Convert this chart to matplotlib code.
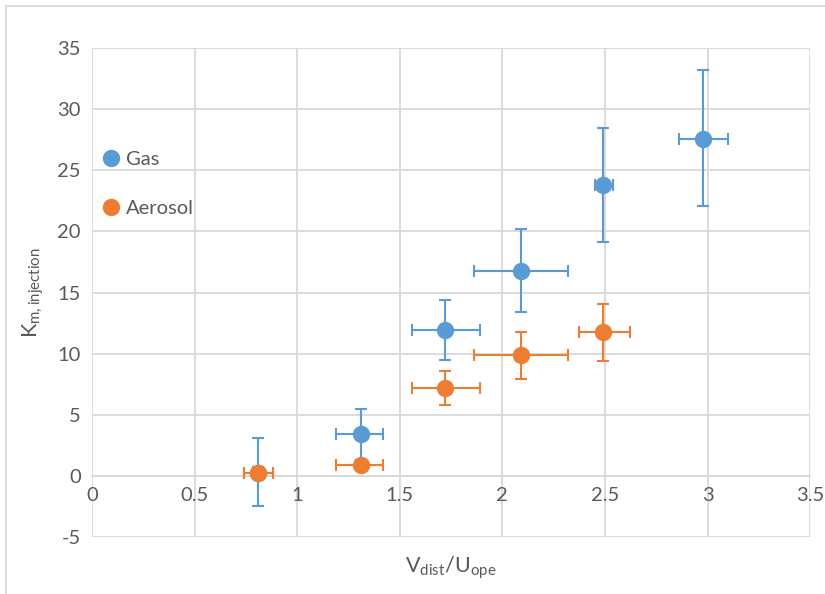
import matplotlib.pyplot as plt
from matplotlib.lines import Line2D
from matplotlib.patches import Rectangle

plt.rcParams['font.family'] = ['Lato', 'DejaVu Sans']
plt.rcParams['axes.unicode_minus'] = False

# Gas series
gas_x = [0.81, 1.31, 1.72, 2.09, 2.49, 2.98]
gas_y = [0.25, 3.45, 11.95, 16.8, 23.8, 27.6]
gas_xlo = [0.74, 1.19, 1.56, 1.86, 2.45, 2.86]
gas_xhi = [0.88, 1.42, 1.89, 2.32, 2.54, 3.10]
gas_ylo = [-2.5, 1.3, 9.5, 13.4, 19.1, 22.1]
gas_yhi = [3.1, 5.5, 14.4, 20.2, 28.5, 33.2]

# Aerosol series
aer_x = [0.81, 1.31, 1.72, 2.09, 2.49]
aer_y = [0.25, 0.9, 7.15, 9.86, 11.75]
aer_xlo = [0.74, 1.19, 1.56, 1.86, 2.375]
aer_xhi = [0.88, 1.42, 1.89, 2.32, 2.62]
aer_ylo = [-0.2, 0.6, 5.8, 7.9, 9.4]
aer_yhi = [0.7, 1.2, 8.6, 11.8, 14.05]

blue = '#5B9BD5'
orange = '#ED7D31'
txt = '#595959'


def errs(v, lo, hi):
    return [[a - b for a, b in zip(v, lo)], [b - a for a, b in zip(v, hi)]]


fig = plt.figure(figsize=(8.25, 5.94), dpi=100)
ax = fig.add_axes([0.1115, 0.096, 0.8705, 0.823])

for xs, ys, xl, xh, yl, yh, c in [
        (gas_x, gas_y, gas_xlo, gas_xhi, gas_ylo, gas_yhi, blue),
        (aer_x, aer_y, aer_xlo, aer_xhi, aer_ylo, aer_yhi, orange)]:
    ax.errorbar(xs, ys, xerr=errs(xs, xl, xh), yerr=errs(ys, yl, yh),
                fmt='o', color=c, ms=11.5, elinewidth=1.5, capsize=4.5,
                capthick=1.5, zorder=3)

ax.set_xlim(0, 3.5)
ax.set_ylim(-5, 35)
ax.set_xticks([0, 0.5, 1, 1.5, 2, 2.5, 3, 3.5])
ax.set_xticklabels(['0', '0.5', '1', '1.5', '2', '2.5', '3', '3.5'])
ax.set_yticks(range(-5, 40, 5))
ax.grid(True, color='#d9d9d9', lw=1.3)
ax.set_axisbelow(True)
for s in ['top', 'right', 'left']:
    ax.spines[s].set_visible(False)
ax.spines['bottom'].set_position(('data', 0))
ax.spines['bottom'].set_color('#d9d9d9')
ax.spines['bottom'].set_linewidth(1.3)
ax.tick_params(length=0, labelsize=14.5, labelcolor=txt, pad=8)

ax.set_xlabel(r'V$_{\mathregular{dist}}$/U$_{\mathregular{ope}}$', fontsize=15.5,
              color=txt)
ax.xaxis.set_label_coords(0.5, -0.035)
ax.set_ylabel(r'K$_{\mathregular{m,injection}}$', fontsize=15.5, color=txt,
              labelpad=8)

handles = [Line2D([], [], ls='', marker='o', color=blue, ms=11.5),
           Line2D([], [], ls='', marker='o', color=orange, ms=11.5)]
ax.legend(handles, ['Gas', 'Aerosol'], loc='upper left',
          bbox_to_anchor=(-0.02, 0.826), frameon=False, fontsize=14.5,
          labelcolor=txt, handletextpad=0.0, labelspacing=1.55,
          handlelength=1.5)

fig.patches.append(Rectangle((6 / 825, -0.1), 1.2, 1 - 6 / 594 + 0.1,
                             transform=fig.transFigure, fill=False,
                             ec='#d9d9d9', lw=1.3))

fig.savefig('out.png', dpi=100)
